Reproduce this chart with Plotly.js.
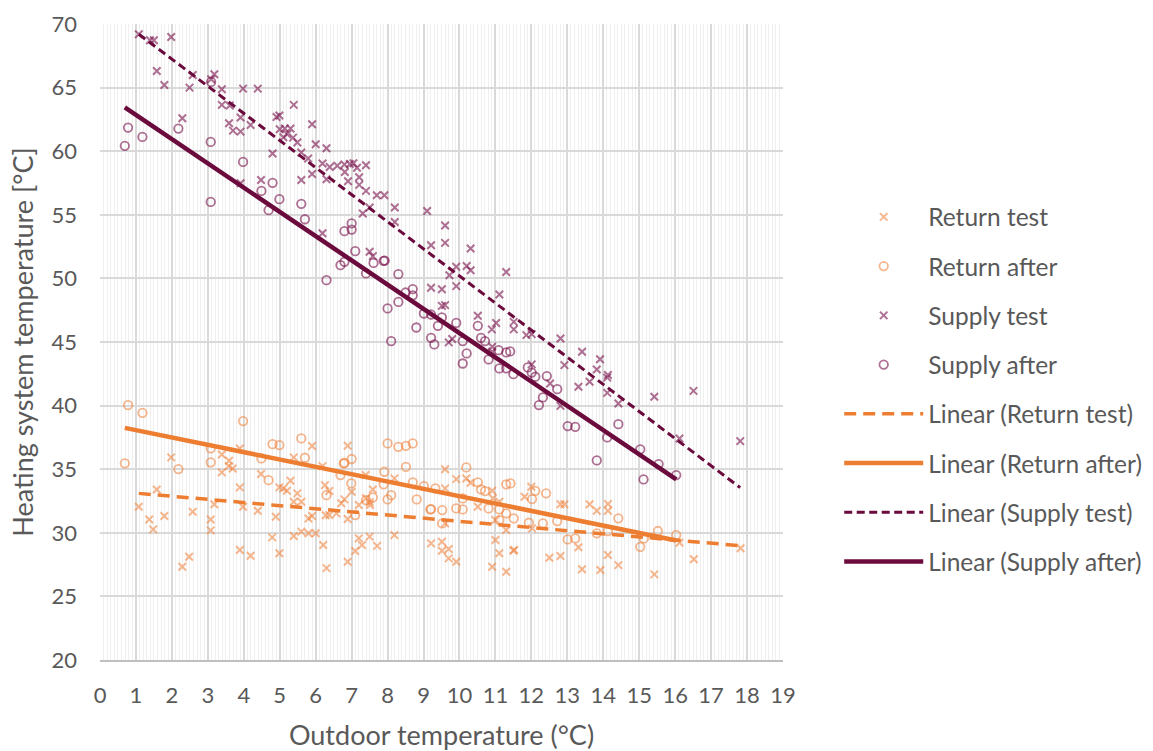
<!DOCTYPE html>
<html>
<head>
<meta charset="utf-8">
<script src="https://cdn.plot.ly/plotly-3.0.1.min.js"></script>
<style>html,body{margin:0;padding:0;background:#fff;}#chart{width:1153px;height:751px;}</style>
</head>
<body>
<div id="chart"></div>
<script>
// ---- Data ----
const returnTestX = [1.08,1.37,1.48,1.58,1.79,1.98,2.29,2.48,2.58,3.08,3.08,3.18,3.39,3.39,3.59,3.58,3.69,3.89,3.89,3.98,3.89,4.19,4.39,4.48,4.79,4.89,4.99,4.99,5.10,5.20,5.30,5.39,5.39,5.49,5.60,5.39,5.60,5.80,6.00,5.90,5.80,5.90,6.21,6.30,6.26,6.38,6.28,6.38,6.58,6.19,6.71,6.80,6.89,6.89,7.00,7.10,6.89,7.20,7.29,7.40,7.51,7.50,7.39,7.59,7.20,7.50,7.71,8.19,8.19,9.21,9.51,9.51,9.70,9.70,9.91,9.60,9.60,9.60,9.91,10.19,10.31,10.51,10.91,10.93,11.11,11.00,11.00,11.11,10.91,11.30,11.30,11.50,11.52,11.81,12.00,12.02,12.50,12.81,12.92,12.81,13.31,13.41,13.62,13.82,13.92,14.13,14.13,14.13,14.42,15.42,16.12,16.52,17.82];
const returnTestY = [32.05,31.05,30.27,33.41,31.32,35.93,27.33,28.12,31.65,31.05,30.19,32.24,34.75,36.16,35.66,35.24,35.06,33.57,36.63,32.05,28.65,28.20,31.73,34.62,29.64,31.26,28.39,33.57,33.49,33.30,34.09,35.93,32.44,33.10,32.44,29.75,30.09,29.96,29.96,36.82,31.13,31.32,29.04,27.22,33.75,33.28,31.38,31.39,31.53,35.24,32.32,32.63,36.84,31.08,33.23,28.57,27.73,32.18,29.04,32.71,32.18,32.40,34.54,33.41,29.56,29.70,28.97,34.28,29.82,29.17,29.30,28.59,28.72,27.99,27.72,34.99,33.49,30.74,34.22,34.27,33.93,32.05,33.30,32.71,32.44,31.00,29.43,28.39,27.33,26.94,30.22,28.60,28.65,32.83,33.62,30.35,28.04,32.24,32.24,28.17,28.86,27.13,32.24,31.73,27.07,32.26,31.73,28.25,27.46,26.73,29.22,27.92,28.78];

const returnAfterX = [0.78,1.18,0.69,2.18,3.98,3.08,3.08,4.80,4.99,5.60,5.70,4.49,4.69,6.30,6.69,6.80,6.78,7.00,6.99,7.10,8.00,8.30,8.51,8.70,7.91,7.89,8.51,8.10,8.00,7.40,7.59,8.70,8.81,9.01,9.19,9.21,9.33,9.52,9.52,9.91,10.09,10.19,10.51,10.60,10.71,10.09,10.81,11.30,11.42,11.11,11.11,11.30,11.51,12.11,12.02,12.41,11.93,12.32,12.72,13.01,13.22,13.82,14.13,14.42,15.13,15.03,15.52,16.03];
const returnAfterY = [40.04,39.43,35.46,35.01,38.78,36.64,35.54,36.97,36.90,37.42,35.90,35.85,34.14,32.96,34.54,35.50,35.45,35.80,33.88,31.39,37.03,36.76,36.84,37.03,34.80,33.81,35.19,32.96,32.62,32.57,32.78,33.97,32.62,33.67,31.84,31.86,33.49,31.79,30.74,31.92,31.84,35.14,33.97,33.41,33.28,32.70,31.92,33.81,33.88,31.84,31.00,31.53,31.13,33.30,32.65,33.10,30.79,30.74,30.92,29.48,29.56,29.96,30.14,31.14,29.56,28.90,30.14,29.82];

const supplyTestX = [1.08,1.39,1.50,1.98,1.58,1.79,2.58,2.49,3.18,3.09,3.39,3.98,4.39,3.39,3.61,5.39,2.29,3.91,3.59,3.70,3.91,4.19,4.91,4.99,5.00,5.14,5.30,5.21,5.37,5.10,5.49,5.90,6.00,5.60,5.79,6.30,6.19,6.39,4.80,5.90,5.60,6.30,4.48,3.91,6.19,6.60,6.80,6.95,7.05,7.15,6.81,6.90,7.21,7.21,7.40,7.40,7.70,7.91,8.20,8.20,7.31,7.50,9.10,9.60,9.60,9.21,10.31,7.50,7.59,9.91,9.72,10.20,10.31,11.30,9.91,9.21,9.51,9.51,9.60,11.11,10.51,11.02,10.90,11.51,11.51,12.01,11.86,9.80,9.70,10.91,10.91,12.01,12.81,13.41,12.92,13.91,13.82,14.13,14.11,13.62,13.31,12.52,14.11,12.81,14.42,15.42,16.51,16.12,17.81];
const supplyTestY = [69.19,68.72,68.72,68.98,66.31,65.21,65.99,65.00,66.05,65.65,64.87,64.92,64.92,63.64,63.59,63.64,62.59,62.65,62.20,61.62,61.54,62.06,62.69,62.80,61.73,61.78,61.78,61.33,61.07,61.10,60.68,62.12,60.55,59.90,59.42,60.23,59.03,58.76,59.82,58.21,57.74,57.80,57.74,57.48,53.55,58.85,58.95,59.00,59.05,58.70,58.37,57.64,57.95,57.35,58.90,56.88,56.54,56.54,55.57,54.44,55.10,55.57,55.30,54.16,52.79,52.61,52.35,52.09,51.75,50.91,50.25,50.98,50.64,50.50,49.39,49.26,49.15,47.84,47.90,48.74,47.06,46.50,45.99,46.58,45.99,45.62,45.54,45.24,44.97,44.62,44.23,43.24,45.28,44.23,43.18,43.65,42.84,42.40,42.20,41.87,41.48,41.74,41.00,39.98,40.17,40.69,41.16,37.42,37.21];

const supplyAfterX = [0.69,0.78,1.18,2.18,3.08,3.98,3.08,3.09,4.80,4.49,4.99,4.69,5.60,5.70,6.30,6.80,7.00,7.00,7.10,6.69,6.80,7.61,7.89,7.92,7.40,8.30,8.70,8.70,8.50,8.30,8.00,9.01,9.21,9.51,9.91,9.40,8.80,10.51,10.60,10.71,9.21,9.30,10.09,8.10,11.09,11.30,11.41,10.20,10.81,10.09,11.11,11.30,11.50,11.90,12.01,12.11,12.43,12.72,12.32,12.21,13.01,13.22,14.42,14.11,13.82,15.03,15.54,15.12,16.03];
const supplyAfterY = [60.42,61.86,61.12,61.78,60.73,59.16,56.01,65.45,57.51,56.88,56.23,55.36,55.86,54.65,49.86,53.71,53.84,54.32,52.14,51.04,51.30,51.22,51.38,51.40,50.39,50.33,49.15,48.67,48.89,48.15,47.64,47.24,47.16,46.93,46.50,46.27,46.14,46.27,45.33,45.07,45.33,44.81,45.07,45.07,44.36,44.18,44.26,44.10,43.63,43.31,42.92,42.93,42.47,43.00,42.60,42.27,42.32,41.29,40.64,40.04,38.39,38.33,38.54,37.50,35.69,36.56,35.40,34.20,34.54];

// Trendline end points
const trendReturnTestX = [1.08, 17.82];
const trendReturnTestY = [33.1, 28.98];
const trendReturnAfterX = [0.69, 16.03];
const trendReturnAfterY = [38.25, 29.4];
const trendSupplyTestX = [1.08, 17.81];
const trendSupplyTestY = [69.2, 33.55];
const trendSupplyAfterX = [0.69, 16.03];
const trendSupplyAfterY = [63.45, 34.2];

const xTicks = [0,1,2,3,4,5,6,7,8,9,10,11,12,13,14,15,16,17,18,19];
const yTicks = [20,25,30,35,40,45,50,55,60,65,70];

// ---- Styling ----
const FONT = 'Lato, "Open Sans", sans-serif';
const TXT = '#595959';
const orangeMk = 'rgba(240,130,60,0.58)';
const purpleMk = 'rgba(125,25,80,0.62)';
const orangeLn = '#ED7D31';
const purpleLn = '#6B0A3C';

function scatter(name, x, y, symbol, color, size, lw, grp) {
  return {type:'scatter', mode:'markers', name, x, y, legendgroup: grp,
    marker:{symbol, size, color, line:{color, width: lw}}};
}
function trend(name, x, y, color, width, dash, grp) {
  return {type:'scatter', mode:'lines', name, x, y, legendgroup: grp,
    line:{color, width, dash}};
}

const data = [
  scatter('Return test', returnTestX, returnTestY, 'x-thin-open', orangeMk, 7.5, 2, 'a'),
  scatter('Return after', returnAfterX, returnAfterY, 'circle-open', orangeMk, 8.5, 1.8, 'b'),
  scatter('Supply test', supplyTestX, supplyTestY, 'x-thin-open', purpleMk, 7.5, 2, 'c'),
  scatter('Supply after', supplyAfterX, supplyAfterY, 'circle-open', purpleMk, 8.5, 1.8, 'd'),
  trend('Linear (Return test)', trendReturnTestX, trendReturnTestY, orangeLn, 3.5, '12px,7px', 'e'),
  trend('Linear (Return after)', trendReturnAfterX, trendReturnAfterY, orangeLn, 4.5, 'solid', 'f'),
  trend('Linear (Supply test)', trendSupplyTestX, trendSupplyTestY, purpleLn, 3, '8px,4.5px', 'g'),
  trend('Linear (Supply after)', trendSupplyAfterX, trendSupplyAfterY, purpleLn, 4.5, 'solid', 'h')
];

const layout = {
  width:1153, height:751,
  margin:{l:100, r:370, t:24, b:91, autoexpand:false},
  paper_bgcolor:'#fff', plot_bgcolor:'#fff',
  font:{family:FONT, color:TXT, size:22},
  showlegend:true,
  legend:{x:1.0823, xanchor:'left', y:0.732, yanchor:'top',
    font:{family:FONT, size:24.5, color:TXT}, traceorder:'grouped', tracegroupgap:14.4,
    itemwidth:79, bgcolor:'rgba(0,0,0,0)'},
  xaxis:{range:[0,19], tickvals:xTicks, ticktext:xTicks.map(String), showgrid:true,
    gridcolor:'#d9d9d9', gridwidth:2, zeroline:false, showline:true, linecolor:'#bfbfbf', linewidth:2,
    ticks:'', ticklabelstandoff:15, tickfont:{family:FONT, size:22, color:TXT},
    minor:{dtick:0.1, showgrid:true, gridcolor:'#efefef', gridwidth:1},
    title:{text:'Outdoor temperature (°C)', font:{family:FONT, size:27, color:TXT}, standoff:19}},
  yaxis:{range:[20,70], tickvals:yTicks, ticktext:yTicks.map(String), showgrid:true,
    gridcolor:'#d9d9d9', gridwidth:2, zeroline:false, showline:false,
    ticks:'', ticklabelstandoff:22, tickfont:{family:FONT, size:22, color:TXT},
    title:{text:'Heating system temperature [°C]', font:{family:FONT, size:27, color:TXT}, standoff:10}}
};

Plotly.newPlot('chart', data, layout, {displayModeBar:false, staticPlot:true});
</script>
</body>
</html>
